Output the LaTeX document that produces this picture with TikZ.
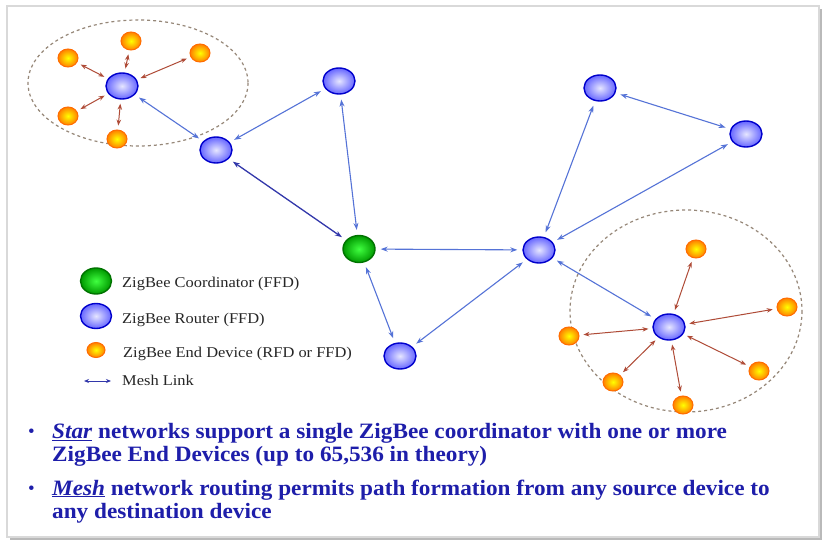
\documentclass[tikz,border=0pt]{standalone}
\usepackage{fontspec}
\setmainfont{Liberation Serif}
\newfontfamily\slidefont[FakeStretch=1.06]{Liberation Serif}
\newfontfamily\legendfont[FakeStretch=1.1]{Liberation Serif}
\usetikzlibrary{shapes.geometric,arrows.meta}

\definecolor{meshblue}{RGB}{85,115,215}
\definecolor{meshdark}{RGB}{50,55,170}
\definecolor{starred}{RGB}{175,75,55}
\definecolor{textblue}{RGB}{30,30,170}
\definecolor{ringgray}{RGB}{150,135,120}

\tikzset{
	router/.style={ellipse, minimum width=32bp, minimum height=26bp, inner sep=0pt,
		draw=blue!80!black, line width=1.4bp, inner color=blue!10, outer color=blue!60},
	coord/.style={ellipse, minimum width=32bp, minimum height=27bp, inner sep=0pt,
		draw=green!45!black, line width=1.4bp, inner color=green!75!white, outer color=green!60!black},
	enddev/.style={ellipse, minimum width=20bp, minimum height=18bp, inner sep=0pt,
		draw=orange!85!red, line width=1bp, inner color=yellow, outer color=orange},
	mesh/.style={{Stealth[length=7bp,width=5bp]}-{Stealth[length=7bp,width=5bp]}, draw=meshblue,
		line width=1.1bp, shorten >=5bp, shorten <=5bp},
	star/.style={{Stealth[length=6bp,width=4.5bp]}-{Stealth[length=6bp,width=4.5bp]}, draw=starred,
		line width=1bp, shorten >=4bp, shorten <=4bp},
	legend/.style={anchor=west, inner sep=0pt, text=black!85, font=\legendfont\fontsize{15}{17}\selectfont},
	bullettext/.style={anchor=base west, inner sep=0pt, align=left, text=textblue,
		font=\slidefont\fontsize{22}{23}\selectfont\bfseries}
}

\begin{document}
\begin{tikzpicture}[x=1bp, y=-1bp]
	\useasboundingbox (0,0) rectangle (829,547);
	\fill[white] (0,0) rectangle (829,547);
	% frame
	\draw[gray!55, line width=2.5bp] (10,539) -- (821,539) -- (821,9);
	\draw[gray!30, line width=1.5bp] (7,6) rectangle (819,537);

	% star clusters
	\draw[ringgray, dashed, line width=1.2bp] (138,83) ellipse (110 and 63);
	\draw[ringgray, dashed, line width=1.2bp] (686,311) ellipse (116 and 101);

	% routers and coordinator
	\node[router] (r1) at (122,86) {};
	\node[router] (r2) at (216,150) {};
	\node[router] (r3) at (339,81) {};
	\node[coord] (c) at (359,249) {};
	\node[router] (r4) at (539,250) {};
	\node[router] (r5) at (400,356) {};
	\node[router] (r6) at (600,88) {};
	\node[router] (r7) at (746,134) {};
	\node[router] (r8) at (669,327) {};

	% end devices
	\node[enddev] (a1) at (68,58) {};
	\node[enddev] (a2) at (131,41) {};
	\node[enddev] (a3) at (200,53) {};
	\node[enddev] (a4) at (68,116) {};
	\node[enddev] (a5) at (117,139) {};
	\node[enddev] (b1) at (696,249) {};
	\node[enddev] (b2) at (787,307) {};
	\node[enddev] (b3) at (569,336) {};
	\node[enddev] (b4) at (613,382) {};
	\node[enddev] (b5) at (683,405) {};
	\node[enddev] (b6) at (759,371) {};

	% mesh links
	\draw[mesh] (r1) -- (r2);
	\draw[mesh] (r2) -- (r3);
	\draw[mesh, draw=meshdark, line width=1.3bp] (r2) -- (c);
	\draw[mesh] (r3) -- (c);
	\draw[mesh] (c) -- (r4);
	\draw[mesh] (c) -- (r5);
	\draw[mesh] (r5) -- (r4);
	\draw[mesh] (r4) -- (r6);
	\draw[mesh] (r4) -- (r7);
	\draw[mesh] (r6) -- (r7);
	\draw[mesh] (r4) -- (r8);

	% star links
	\foreach \e in {a1,a2,a3,a4,a5}
		\draw[star] (r1) -- (\e);
	\foreach \e in {b1,b2,b3,b4,b5,b6}
		\draw[star] (r8) -- (\e);

	% legend
	\node[coord, minimum width=31bp, minimum height=26bp] (lc) at (96,281) {};
	\node[router, minimum width=31bp, minimum height=25bp] (lr) at (96,316) {};
	\node[enddev, minimum width=18bp, minimum height=15bp] (le) at (96,350) {};
	\coordinate (lma) at (84,381);
	\coordinate (lmb) at (111,381);
	\draw[{Stealth[length=5bp,width=4bp]}-{Stealth[length=5bp,width=4bp]}, draw=meshdark, line width=1bp] (lma) -- (lmb);
	\node[legend] (tc) at (122,284) {ZigBee Coordinator (FFD)};
	\node[legend] (tr) at (122,320) {ZigBee Router (FFD)};
	\node[legend] (te) at (123,354) {ZigBee End Device (RFD or FFD)};
	\node[legend] (tm) at (122,380) {Mesh Link};

	% text
	\node[bullettext, font=\fontsize{19}{19}\selectfont] (dot1) at (28,437) {\textbullet};
	\node[bullettext] (star) at (52,461) {\underline{\textit{Star}} networks support a single ZigBee coordinator with one or more\\ZigBee End Devices (up to 65,536 in theory)};
	\node[bullettext, font=\fontsize{19}{19}\selectfont] (dot2) at (28,494) {\textbullet};
	\node[bullettext] (mesh) at (52,518) {\underline{\textit{Mesh}} network routing permits path formation from any source device to\\any destination device};
\end{tikzpicture}
\end{document}
